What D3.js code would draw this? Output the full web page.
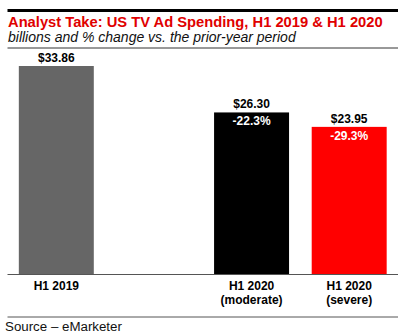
<!DOCTYPE html>
<html>
<head>
<meta charset="utf-8">
<script src="https://cdn.jsdelivr.net/npm/d3@7"></script>
<style>
  html, body { margin: 0; padding: 0; background: #fff; }
  svg { display: block; }
</style>
</head>
<body>
<svg id="chart" width="420" height="336"></svg>
<script>
const categories = ["H1 2019", "", "H1 2020 (moderate)", "H1 2020 (severe)"];
const categoryLines = [["H1 2019"], [], ["H1 2020", "(moderate)"], ["H1 2020", "(severe)"]];
const values = [33.86, null, 26.30, 23.95];
const valueLabels = ["$33.86", "", "$26.30", "$23.95"];
const changeLabels = ["", "", "-22.3%", "-29.3%"];
const barColors = ["#666666", "none", "#000000", "#ff0000"];
const changeColors = ["#ffffff", "#ffffff", "#ffffff", "#ffffff"];

const titleText = "Analyst Take: US TV Ad Spending, H1 2019 & H1 2020";
const subtitleText = "billions and % change vs. the prior-year period";
const sourceText = "Source \u2013 eMarketer";

const svg = d3.select("#chart");
const font = "'Liberation Sans', Arial, sans-serif";

const left = 7.5, right = 398, baseY = 274, topY = 66;

const x = d3.scaleBand().domain(categories).range([left, right])
  .paddingInner(0.232).paddingOuter(0.116);
const y = d3.scaleLinear().domain([0, 33.86]).range([baseY, topY]);

// top rule
svg.append("rect").attr("x", left).attr("y", 9).attr("width", right - left).attr("height", 3).attr("fill", "#000");

function fitText(sel, w) {
  const len = sel.node().getComputedTextLength();
  const fs = parseFloat(sel.attr("font-size"));
  sel.attr("font-size", fs * w / len);
}

const title = svg.append("text").attr("x", 8).attr("y", 26.5)
  .attr("font-family", font).attr("font-weight", "bold").attr("font-size", 14)
  .attr("fill", "#e00000").text(titleText);
fitText(title, 375);

const sub = svg.append("text").attr("x", 8).attr("y", 41.5)
  .attr("font-family", font).attr("font-style", "italic").attr("font-size", 14)
  .attr("fill", "#111").text(subtitleText);
fitText(sub, 288);

svg.append("line").attr("x1", left).attr("x2", right).attr("y1", 48).attr("y2", 48)
  .attr("stroke", "#333").attr("stroke-width", 1);

const idx = d3.range(categories.length).filter(i => values[i] != null);

svg.selectAll("rect.bar").data(idx).join("rect").attr("class", "bar")
  .attr("x", i => x(categories[i]))
  .attr("width", x.bandwidth())
  .attr("y", i => y(values[i]))
  .attr("height", i => y(0) - y(values[i]))
  .attr("fill", i => barColors[i]);

svg.selectAll("text.val").data(idx).join("text").attr("class", "val")
  .attr("x", i => x(categories[i]) + x.bandwidth() / 2)
  .attr("y", i => y(values[i]) - 4)
  .attr("text-anchor", "middle")
  .attr("font-family", font).attr("font-weight", "bold").attr("font-size", 12)
  .attr("fill", "#000").text(i => valueLabels[i]);

svg.selectAll("text.chg").data(idx.filter(i => changeLabels[i])).join("text").attr("class", "chg")
  .attr("x", i => x(categories[i]) + x.bandwidth() / 2)
  .attr("y", i => y(values[i]) + 13)
  .attr("text-anchor", "middle")
  .attr("font-family", font).attr("font-weight", "bold").attr("font-size", 12)
  .attr("fill", i => changeColors[i]).text(i => changeLabels[i]);

// axis baseline
svg.append("line").attr("x1", left).attr("x2", right).attr("y1", baseY + 0.5).attr("y2", baseY + 0.5)
  .attr("stroke", "#555").attr("stroke-width", 1);

const catG = svg.selectAll("text.cat").data(idx).join("text").attr("class", "cat")
  .attr("text-anchor", "middle")
  .attr("font-family", font).attr("font-weight", "bold").attr("font-size", 12)
  .attr("fill", "#000");
catG.each(function(i) {
  const t = d3.select(this);
  categoryLines[i].forEach((ln, k) => {
    t.append("tspan").attr("x", x(categories[i]) + x.bandwidth() / 2)
      .attr("y", 289.5 + k * 14.5).text(ln);
  });
});

svg.append("line").attr("x1", left).attr("x2", right).attr("y1", 317).attr("y2", 317)
  .attr("stroke", "#555").attr("stroke-width", 1);

const src = svg.append("text").attr("x", 5).attr("y", 331)
  .attr("font-family", font).attr("font-size", 13.5)
  .attr("fill", "#111").text(sourceText);
fitText(src, 117);
</script>
</body>
</html>
